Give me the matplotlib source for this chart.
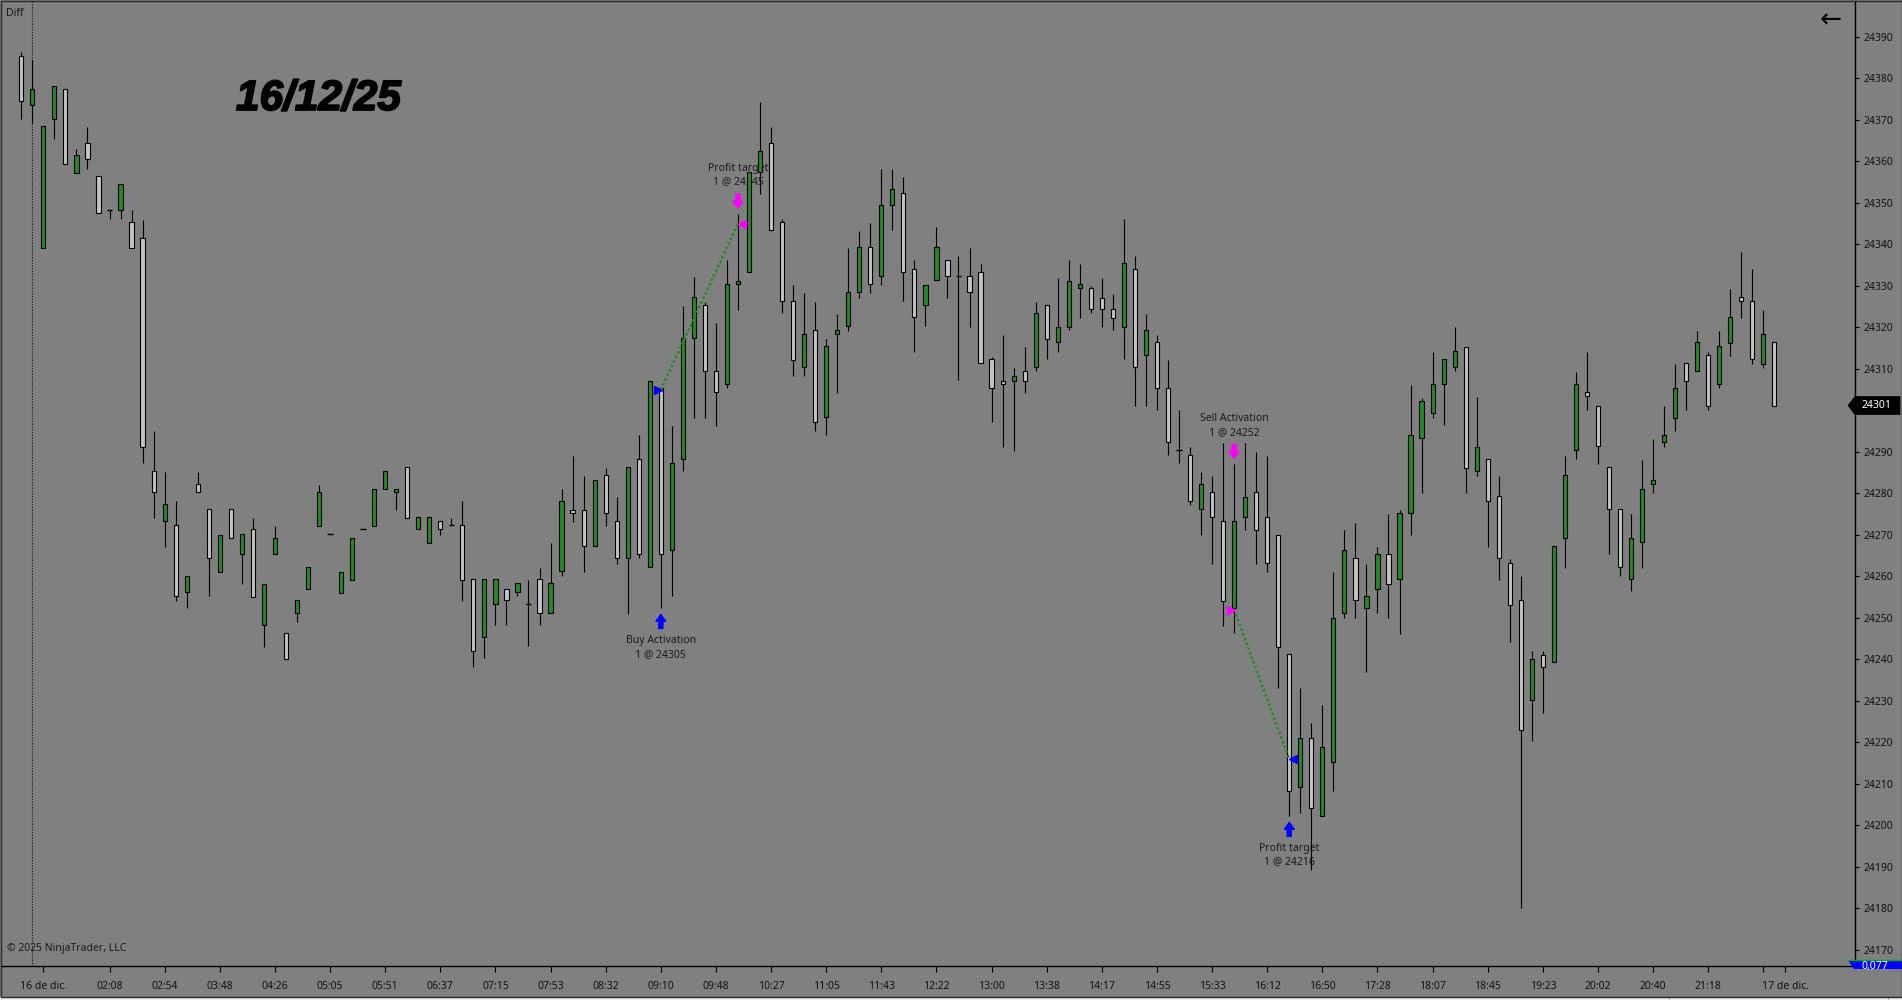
import matplotlib
matplotlib.use('Agg')
import matplotlib.pyplot as plt
import matplotlib.patheffects as pe
from matplotlib.patches import Rectangle, Polygon
from matplotlib.lines import Line2D
from matplotlib.transforms import ScaledTranslation, IdentityTransform

plt.rcParams['font.family'] = ['Noto Sans', 'DejaVu Sans']

# bars (bar index = position)
opens = [
    24385.4, 24373.5, 24339.2, 24370.3, 24377.4, 24357.3, 24364.4, 24356.5, 24348.4, 24348.4,
    24345.4, 24341.5, 24285.3, 24273.3, 24272.3, 24256.2, 24282.2, 24276.2, 24261.2, 24276.2,
    24265.3, 24271.4, 24248.2, 24265.3, 24246.3, 24251.1, 24257.1, 24272.2, 24270.2, 24256.1,
    24259.2, 24271.4, 24272.2, 24281.2, 24280.3, 24286.3, 24271.4, 24268.1, 24273.3, 24272.3,
    24272.3, 24259.4, 24245.3, 24253.3, 24257.1, 24256.2, 24253.3, 24259.4, 24251.1, 24261.3,
    24276.1, 24276.1, 24267.3, 24284.4, 24273.3, 24264.4, 24288.2, 24262.3, 24305.3, 24266.3,
    24288.2, 24317.4, 24325.3, 24309.4, 24306.3, 24330.4, 24333.3, 24357.4, 24364.4, 24345.3,
    24326.3, 24310.4, 24319.3, 24298.4, 24318.4, 24320.3, 24328.5, 24339.3, 24332.3, 24349.4,
    24352.3, 24334.2, 24325.3, 24331.4, 24336.3, 24332.3, 24332.3, 24333.3, 24312.3, 24307.2,
    24307.2, 24309.4, 24310.4, 24325.4, 24316.4, 24320.2, 24329.4, 24329.4, 24327.2, 24324.4,
    24320.2, 24334.2, 24313.3, 24316.4, 24305.3, 24290.4, 24289.2, 24276.3, 24280.3, 24273.3,
    24252.4, 24274.3, 24280.3, 24274.3, 24270.1, 24241.3, 24209.2, 24221.1, 24202.2, 24215.3,
    24251.1, 24264.4, 24252.3, 24257.1, 24265.3, 24259.3, 24275.3, 24293.3, 24299.3, 24306.3,
    24310.4, 24315.4, 24285.4, 24288.2, 24279.3, 24263.2, 24254.3, 24230.2, 24241.2, 24239.3,
    24269.2, 24290.4, 24304.4, 24301.2, 24286.3, 24276.2, 24259.4, 24268.2, 24282.2, 24292.3,
    24298.3, 24311.4, 24309.4, 24313.3, 24306.3, 24316.3, 24327.3, 24326.3, 24311.3, 24316.4,
]
highs = [
    24386.4, 24384.4, 24368.5, 24378.3, 24377.4, 24363.1, 24368.2, 24356.5, 24348.4, 24354.5,
    24348.3, 24346.0, 24295.1, 24285.1, 24278.1, 24260.2, 24285.1, 24276.2, 24270.1, 24276.2,
    24270.2, 24274.1, 24258.3, 24272.2, 24246.3, 24254.3, 24262.2, 24282.0, 24270.2, 24261.2,
    24269.2, 24271.4, 24281.2, 24285.3, 24281.2, 24286.3, 24274.3, 24274.3, 24273.3, 24274.1,
    24278.2, 24259.4, 24259.4, 24259.4, 24257.1, 24258.4, 24259.2, 24262.1, 24268.0, 24281.1,
    24289.0, 24284.1, 24283.2, 24286.1, 24279.1, 24286.3, 24294.1, 24307.2, 24305.3, 24296.3,
    24325.1, 24332.2, 24326.1, 24321.1, 24336.2, 24347.3, 24357.4, 24374.3, 24368.3, 24346.1,
    24330.2, 24328.3, 24326.1, 24317.2, 24323.3, 24339.2, 24343.2, 24345.1, 24358.1, 24358.1,
    24356.2, 24336.2, 24330.3, 24344.1, 24336.3, 24337.2, 24339.1, 24335.3, 24313.0, 24318.2,
    24310.2, 24315.2, 24326.1, 24325.4, 24332.0, 24336.2, 24335.2, 24330.1, 24332.0, 24328.1,
    24346.1, 24337.2, 24323.2, 24318.2, 24312.1, 24300.1, 24291.2, 24285.1, 24284.1, 24292.1,
    24287.0, 24292.1, 24290.1, 24289.0, 24270.1, 24241.3, 24233.1, 24224.8, 24229.0, 24261.1,
    24271.2, 24273.0, 24263.0, 24267.1, 24275.1, 24275.9, 24306.1, 24303.1, 24314.1, 24312.3,
    24320.1, 24315.4, 24303.2, 24288.2, 24284.2, 24264.2, 24260.0, 24242.0, 24242.0, 24267.3,
    24289.0, 24309.2, 24314.0, 24301.2, 24286.3, 24276.2, 24275.1, 24288.1, 24293.1, 24301.1,
    24311.2, 24311.4, 24319.2, 24314.0, 24319.2, 24329.3, 24338.2, 24334.1, 24324.2, 24316.4,
]
lows = [
    24370.3, 24369.3, 24339.2, 24365.3, 24359.3, 24357.3, 24358.3, 24347.5, 24346.2, 24346.2,
    24339.2, 24287.3, 24274.2, 24267.2, 24254.2, 24252.3, 24280.3, 24255.2, 24261.2, 24269.2,
    24258.3, 24255.1, 24243.0, 24265.3, 24240.2, 24249.1, 24257.1, 24272.2, 24270.2, 24256.1,
    24259.2, 24271.4, 24272.2, 24281.2, 24276.1, 24274.2, 24271.4, 24268.1, 24270.0, 24272.3,
    24254.1, 24238.1, 24240.3, 24248.2, 24248.2, 24255.3, 24243.2, 24248.2, 24251.1, 24260.2,
    24273.2, 24261.2, 24267.3, 24272.2, 24263.1, 24251.0, 24264.4, 24262.3, 24252.3, 24255.3,
    24285.3, 24298.3, 24298.3, 24296.3, 24305.3, 24324.3, 24333.3, 24352.2, 24343.4, 24323.4,
    24308.2, 24308.2, 24295.1, 24294.2, 24304.3, 24319.2, 24327.2, 24328.4, 24330.3, 24343.4,
    24326.3, 24314.2, 24320.3, 24331.4, 24327.2, 24307.3, 24320.2, 24311.4, 24297.3, 24291.3,
    24290.3, 24304.3, 24309.4, 24312.3, 24314.2, 24319.3, 24322.4, 24323.4, 24320.2, 24319.3,
    24312.3, 24301.2, 24301.2, 24300.2, 24289.2, 24287.3, 24277.3, 24270.1, 24263.1, 24248.1,
    24246.3, 24271.3, 24263.1, 24261.2, 24233.2, 24202.2, 24203.1, 24189.2, 24202.2, 24208.2,
    24250.1, 24250.1, 24237.0, 24251.1, 24250.1, 24246.2, 24270.1, 24280.2, 24298.2, 24296.4,
    24309.5, 24280.2, 24284.3, 24267.2, 24259.2, 24244.1, 24180.0, 24220.3, 24227.2, 24239.3,
    24262.0, 24288.2, 24300.2, 24287.2, 24265.3, 24260.0, 24256.5, 24262.0, 24280.2, 24291.3,
    24295.1, 24300.1, 24309.4, 24300.1, 24305.3, 24313.2, 24322.3, 24311.3, 24310.3, 24301.2,
]
closes = [
    24374.5, 24377.4, 24368.5, 24378.3, 24359.3, 24361.5, 24360.5, 24347.5, 24348.4, 24354.5,
    24339.2, 24291.3, 24280.3, 24277.4, 24255.2, 24260.2, 24280.3, 24264.4, 24270.1, 24269.2,
    24270.2, 24255.1, 24258.3, 24269.2, 24240.2, 24254.3, 24262.2, 24280.3, 24270.2, 24261.2,
    24269.2, 24271.4, 24281.2, 24285.3, 24281.2, 24274.2, 24274.3, 24274.3, 24271.4, 24272.3,
    24259.2, 24242.1, 24259.4, 24259.4, 24254.3, 24258.4, 24253.3, 24251.1, 24258.4, 24278.3,
    24275.2, 24267.3, 24283.2, 24275.2, 24264.4, 24286.3, 24265.4, 24307.2, 24265.4, 24287.3,
    24317.4, 24327.4, 24309.4, 24304.4, 24330.4, 24331.3, 24357.4, 24362.5, 24343.4, 24326.3,
    24312.2, 24318.4, 24297.3, 24315.5, 24319.3, 24328.5, 24339.3, 24330.4, 24349.4, 24353.3,
    24333.3, 24322.5, 24330.3, 24339.3, 24332.3, 24332.3, 24328.5, 24311.4, 24305.3, 24306.3,
    24308.2, 24307.2, 24323.4, 24317.3, 24320.2, 24331.3, 24330.4, 24324.4, 24324.4, 24322.4,
    24335.5, 24310.4, 24319.3, 24305.3, 24292.3, 24290.4, 24278.3, 24282.2, 24274.3, 24254.2,
    24273.3, 24279.2, 24271.3, 24263.2, 24243.1, 24208.3, 24221.1, 24204.2, 24219.0, 24250.1,
    24266.3, 24254.3, 24255.2, 24265.3, 24258.3, 24275.3, 24294.2, 24302.2, 24306.3, 24312.3,
    24314.3, 24286.2, 24291.3, 24278.3, 24264.4, 24253.2, 24223.1, 24240.2, 24238.1, 24267.3,
    24284.4, 24306.3, 24303.4, 24291.4, 24276.2, 24262.3, 24269.2, 24281.2, 24283.2, 24294.2,
    24305.3, 24307.2, 24316.4, 24301.2, 24315.5, 24322.5, 24326.3, 24312.3, 24318.4, 24301.2,
]

tick_bars = [2, 8, 13, 18, 23, 28, 33, 38, 43, 48, 53, 58, 63, 68, 73, 78, 83,
             88, 93, 98, 103, 108, 113, 118, 123, 128, 133, 138, 143, 148, 153, 158, 160]
tick_labels = ['16 de dic.', '02:08', '02:54', '03:48', '04:26', '05:05', '05:51', '06:37',
               '07:15', '07:53', '08:32', '09:10', '09:48', '10:27', '11:05', '11:43', '12:22',
               '13:00', '13:38', '14:17', '14:55', '15:33', '16:12', '16:50', '17:28', '18:07',
               '18:45', '19:23', '20:02', '20:40', '21:18', '', '17 de dic.']
price_ticks = list(range(24170, 24391, 10))
day_break_bar = 1

# executions: bar, price, label, side of the bar, colour, entry/exit
exec_bars = [58, 65, 110, 115]
exec_prices = [24305, 24345, 24252, 24216]
exec_labels = ['Buy Activation', 'Profit target', 'Sell Activation', 'Profit target']
exec_side = ['below', 'above', 'above', 'below']
exec_colors = ['#0000FF', '#FF00FF', '#FF00FF', '#0000FF']
exec_entry = [True, False, True, False]

BG = '#808080'
UP = '#228B22'
DOWN = '#C4C4C4'


def px(fig, dx, dy):
    return ScaledTranslation(dx / fig.dpi, dy / fig.dpi, fig.dpi_scale_trans)


def draw_bars(ax):
    bw = 0.38
    for i, (o, h, l, c) in enumerate(zip(opens, highs, lows, closes)):
        ax.vlines(i, l, h, color='black', lw=0.8, zorder=2)
        if c == o:
            ax.hlines(o, i - bw / 2 - 0.05, i + bw / 2 + 0.05, color='black', lw=1.0, zorder=3)
            continue
        fc = UP if c > o else DOWN
        ax.add_patch(Rectangle((i - bw / 2, min(o, c)), bw, abs(c - o),
                               facecolor=fc, edgecolor='black', lw=0.8, zorder=3))


def draw_trades(fig, ax):
    for k in range(0, len(exec_bars), 2):
        ax.plot(exec_bars[k:k + 2], exec_prices[k:k + 2], color=UP, lw=1.8,
                ls=(0, (1, 1)), zorder=4)

    for b, p, lab, side, col, entry in zip(exec_bars, exec_prices, exec_labels,
                                           exec_side, exec_colors, exec_entry):
        if entry:
            ax.plot(b, p, marker='>', ms=5.5, color=col, mec=col, zorder=5,
                    transform=ax.transData + px(fig, -3, 0))
        else:
            ax.plot(b, p, marker='<', ms=5.5, color=col, mec=col, zorder=5,
                    transform=ax.transData + px(fig, 4, 0))

        sign = 1 if side == 'above' else -1
        ref = highs[b] if side == 'above' else lows[b]
        ax.annotate('', xy=(b, ref), xycoords=ax.transData + px(fig, 0, sign * 6),
                    xytext=(0, sign * 14), textcoords='offset pixels',
                    arrowprops=dict(arrowstyle='simple,head_length=0.5,head_width=0.7,tail_width=0.3',
                                    fc=col, ec=col, shrinkA=0, shrinkB=0), zorder=5)
        ax.annotate(f'{lab}\n1 @ {p}', xy=(b, ref), xytext=(0, sign * 39),
                    textcoords='offset pixels', ha='center', va='center',
                    fontsize=7.5, color='#1a1a1a', linespacing=1.3, zorder=1)


def main():
    fig = plt.figure(figsize=(19.02, 10.0), dpi=100, facecolor=BG)
    ax = fig.add_axes([1 / 1902, 34 / 1000, 1854 / 1902, 965 / 1000])
    ax.set_facecolor(BG)
    ax.set_xlim(-1.841, 166.31)
    ax.set_ylim(24166.14, 24398.67)

    ax.axvline(day_break_bar, color='#111111', lw=0.8, ls=(0, (1, 1.5)), zorder=1)
    draw_bars(ax)
    draw_trades(fig, ax)

    for s in ['top', 'left']:
        ax.spines[s].set_visible(False)
    for s in ['right', 'bottom']:
        ax.spines[s].set_color('black')
        ax.spines[s].set_linewidth(1.0)

    # the last-price flag hides the label next to it
    last = closes[-1]
    ax.yaxis.tick_right()
    ax.set_yticks(price_ticks)
    ax.set_yticklabels(['' if abs(v - last) < 5 else str(v) for v in price_ticks])
    ax.tick_params(axis='y', length=3, width=0.8, pad=3, labelsize=7.5,
                   color='black', labelcolor='#111111')
    ax.set_xticks(tick_bars)
    ax.set_xticklabels(tick_labels)
    ax.tick_params(axis='x', length=4, width=0.8, pad=7, labelsize=7.5,
                   color='black', labelcolor='#111111')

    # last price flag on the price axis
    y_last = ax.transData.transform((0, last))[1]
    flag = Polygon([(1848, y_last), (1855, y_last + 9), (1900, y_last + 9),
                    (1900, y_last - 9), (1855, y_last - 9)], closed=True,
                   fc='black', ec='black', lw=0.5, transform=IdentityTransform(), zorder=5)
    fig.add_artist(flag)
    fig.text(1877 / 1902, y_last / 1000, f'{last:.0f}', color='white',
             ha='center', va='center', fontsize=7.5, zorder=6)

    # blue indicator flag under the axis, mostly hidden
    blue = Polygon([(1848, 40), (1902, 40), (1902, 31), (1854, 31)], closed=True,
                   fc='#0000FF', ec='none', transform=IdentityTransform())
    fig.add_artist(blue)
    fig.add_artist(Line2D([1848, 1902], [40, 40], color='#00B000', lw=1,
                          transform=IdentityTransform()))
    t = fig.text(1875 / 1902, 34 / 1000, '0,077', color='white', ha='center',
                 va='center', fontsize=7.5)
    t.set_clip_path(blue)

    # scrollbar strip and window border
    fig.add_artist(Rectangle((0, 0), 1902, 3, fc='#EFEFEF', ec='none',
                             transform=IdentityTransform()))
    fig.add_artist(Rectangle((1669, 0), 219, 3, fill=False, ec='#A0A0A0', lw=0.6,
                             transform=IdentityTransform()))
    fig.add_artist(Rectangle((0.5, 3), 1901, 996.5, fill=False, ec='#2A2A2A', lw=1,
                             transform=IdentityTransform()))

    fig.text(6 / 1902, 1 - 13 / 1000, 'Diff', fontsize=7.5, va='center', color='#1a1a1a')
    fig.text(7 / 1902, 1 - 948 / 1000, '© 2025 NinjaTrader, LLC', fontsize=7.5,
             va='center', color='#1a1a1a')
    fig.text(1831 / 1902, 1 - 21 / 1000, '←', fontsize=19, family='DejaVu Sans',
             ha='center', va='center', color='black')
    fig.text(236 / 1902, 1 - 99 / 1000, '16/12/25', family='Liberation Sans',
             fontweight='bold', fontstyle='italic', fontsize=30.5, ha='left', va='center',
             color='black', path_effects=[pe.withStroke(linewidth=1.3, foreground='black')])

    fig.savefig('out.png', dpi=100, facecolor=fig.get_facecolor())


if __name__ == '__main__':
    main()
